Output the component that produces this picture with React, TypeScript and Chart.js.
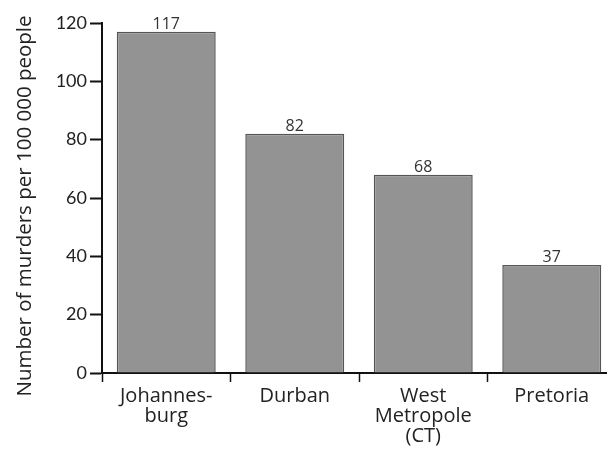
import React, { useEffect, useRef } from "react";
import { Chart, registerables } from "chart.js";

Chart.register(...registerables);

const categories: string[][] = [["Johannes-", "burg"], ["Durban"], ["West", "Metropole", "(CT)"], ["Pretoria"]];
const murderRates: number[] = [117, 82, 68, 37];
const yTicks: number[] = [0, 20, 40, 60, 80, 100, 120];
const yTitle = "Number of murders per 100 000 people";

const FONT = "'Open Sans', Lato, sans-serif";

const valueLabels = {
  id: "valueLabels",
  afterDatasetsDraw(chart: any) {
    const ctx = chart.ctx;
    const meta = chart.getDatasetMeta(0);
    ctx.save();
    ctx.font = `16px ${FONT}`;
    ctx.fillStyle = "#333";
    ctx.textAlign = "center";
    ctx.textBaseline = "alphabetic";
    meta.data.forEach((bar: any, i: number) => {
      ctx.fillText(String(murderRates[i]), bar.x, bar.y - 3);
    });
    ctx.restore();
  },
};

const yAxisTitle = {
  id: "yAxisTitle",
  afterDraw(chart: any) {
    const ctx = chart.ctx;
    const area = chart.chartArea;
    ctx.save();
    ctx.font = `20.5px ${FONT}`;
    ctx.fillStyle = "#222";
    ctx.textAlign = "center";
    ctx.textBaseline = "middle";
    ctx.translate(25, (area.top + area.bottom) / 2 + 8);
    ctx.rotate(-Math.PI / 2);
    ctx.fillText(yTitle, 0, 0);
    ctx.restore();
  },
};

export default function App() {
  const ref = useRef<HTMLCanvasElement | null>(null);
  useEffect(() => {
    if (!ref.current) return;
    const chart = new Chart(ref.current, {
      type: "bar",
      data: {
        labels: categories,
        datasets: [
          {
            data: murderRates,
            backgroundColor: "#939393",
            borderColor: "#555",
            borderWidth: 1.5,
            barPercentage: 0.77,
            categoryPercentage: 1,
          },
        ],
      },
      options: {
        animation: false,
        responsive: false,
        maintainAspectRatio: false,
        layout: { padding: { left: 0, right: 9, top: 23, bottom: 0 } },
        plugins: { legend: { display: false }, tooltip: { enabled: false } },
        scales: {
          x: {
            offset: true,
            grid: {
              display: true,
              drawOnChartArea: false,
              drawTicks: true,
              tickLength: 9,
              tickWidth: 1.5,
              tickColor: "#111",
              offset: true,
            },
            border: { display: true, color: "#111", width: 2 },
            ticks: {
              color: "#222",
              font: { family: FONT, size: 20, lineHeight: 1.0 },
              padding: 4,
              maxRotation: 0,
              autoSkip: false,
            },
            afterFit: (scale: any) => {
              scale.height = 80;
            },
          },
          y: {
            min: 0,
            max: 120,
            afterBuildTicks: (scale: any) => {
              scale.ticks = yTicks.map((v) => ({ value: v }));
            },
            grid: {
              display: true,
              drawOnChartArea: false,
              drawTicks: true,
              tickLength: 12,
              tickWidth: 2,
              tickColor: "#111",
            },
            border: { display: true, color: "#111", width: 2 },
            ticks: {
              color: "#222",
              font: { family: "Lato, sans-serif", size: 18 },
              padding: 3,
            },
            title: { display: false },
            afterFit: (scale: any) => {
              scale.width = 102;
            },
          },
        },
      },
      plugins: [valueLabels, yAxisTitle],
    });
    return () => chart.destroy();
  }, []);
  return (
    <div
      style={{
        position: "fixed",
        left: 0,
        top: 0,
        width: 607,
        height: 453,
        overflow: "hidden",
        background: "#fff",
      }}
    >
      <canvas ref={ref} width={625} height={453} style={{ width: 625, height: 453, display: "block" }} />
    </div>
  );
}
